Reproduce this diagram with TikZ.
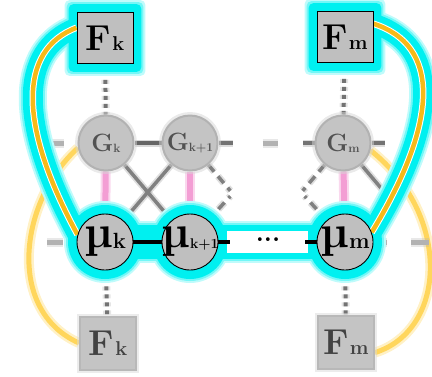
\documentclass[tikz,border=0pt]{standalone}
\usepackage{fix-cm}
\usepackage{tikz}
\usetikzlibrary{positioning}
\definecolor{glowcyan}{RGB}{0,240,240}
\definecolor{wireorange}{RGB}{246,186,24}
\definecolor{softyellow}{RGB}{255,214,92}
\definecolor{softpink}{RGB}{243,158,212}
\pgfdeclarelayer{back}
\pgfdeclarelayer{glow}
\pgfsetlayers{back,glow,main}

\newcommand{\flab}[1]{{\fontsize{36}{36}\selectfont\textbf{F}}\kern1pt{\fontsize{20}{20}\selectfont\textbf{#1}}}
\newcommand{\mulab}[2]{\makebox[0pt]{{\fontsize{46}{46}\selectfont\textbf{µ}}\raisebox{-1pt}{\fontsize{#2}{#2}\selectfont\textbf{#1}}}}
\newcommand{\glab}[1]{\makebox[0pt]{{\fontsize{25}{25}\selectfont\textbf{G}}\raisebox{-1pt}{\fontsize{12}{12}\selectfont\textbf{#1}}}}

\tikzset{
  fbox/.style={rectangle,draw=black,line width=0.9,fill=black!25,minimum width=56,minimum height=51,inner sep=0},
  munode/.style={circle,draw=black,line width=0.9,fill=black!25,minimum size=56,inner sep=0},
  gnode/.style={circle,fill=black!23,draw=black!30,line width=2,minimum size=55,inner sep=0,text=black!68,
    preaction={draw=black!16,draw opacity=.5,line width=7}},
  fbnode/.style={rectangle,fill=black!23,draw=black!28,line width=2,minimum width=56,minimum height=53,inner sep=0,text=black!74,
    preaction={draw=black!15,draw opacity=.5,line width=6}},
  hazy/.style={draw=black!#1,line width=3.5,preaction={draw=black!#1,draw opacity=.25,line width=7}},
  hazydash/.style={draw=black!#1,line width=3.5,dash pattern=on 9 off 6,
    preaction={draw=black!#1,draw opacity=.25,line width=7,dash pattern=on 9 off 6}},
  greydash/.style={draw=black!30,line width=5,preaction={draw=black!30,draw opacity=.3,line width=9}},
  dotline/.style={draw=black!55,line width=4,dash pattern=on 4 off 4,
    preaction={draw=black!40,draw opacity=.25,line width=8,dash pattern=on 4 off 4}},
  pinkedge/.style={draw=softpink,line width=6,preaction={draw=softpink,draw opacity=.4,line width=10}},
  yellowwire/.style={draw=softyellow,line width=5,preaction={draw=softyellow,draw opacity=.35,line width=10}},
}

\begin{document}
\begin{tikzpicture}[x=1pt,y=-1pt]
  \useasboundingbox (0,0) rectangle (432,376);
  % factor and variable nodes
  \node[fbox] (Fk) at (105,38) {\flab{k}};
  \node[fbox] (Fm) at (345,37) {\flab{m}};
  \node[gnode] (Gk) at (106,143) {\glab{k}};
  \node[gnode] (Gk1) at (190,143) {\glab{k+1}};
  \node[gnode] (Gm) at (343,143) {\glab{m}};
  \node[munode] (muk) at (105,242) {\mulab{k}{22}};
  \node[munode] (muk1) at (190,242) {\mulab{k+1}{14}};
  \node[munode] (mum) at (345,242) {\mulab{m}{22}};
  \node[fbnode] (Fbk) at (108,343) {\flab{k}};
  \node[fbnode] (Fbm) at (346,342) {\flab{m}};
  \node[font=\fontsize{26}{26}\selectfont\bfseries] (dots) at (268,240) {...};

  \begin{pgfonlayer}{back}
    % faded wires
    \draw[yellowwire] (Gk.190) .. controls (20,200) and (5,310) .. (Fbk.west);
    \draw[yellowwire] (Gm.-15) .. controls (452,215) and (447,330) .. (Fbm.-20);
    \draw[greydash] ([xshift=-14]Gk.west) -- ++(-16,0);
    \draw[greydash] ([xshift=44]Gk1.east) -- ([xshift=-37]Gm.west);
    \draw[greydash] ([xshift=-14]muk.west) -- ++(-16,0);
    \draw[greydash] ([xshift=8]mum.east) -- ++(6,0);
    \draw[greydash] ([xshift=38]mum.east) -- ++(18,0);
    \draw[hazy=60] (Gk) -- (Gk1);
    \draw[hazy=55] (Gk1.east) -- ++(14,0);
    \draw[hazy=55] (Gm.west) -- ++(-12,0);
    \draw[hazy=55] (Gm.east) -- ++(13,0);
    \draw[hazy=50] (Gk) -- (muk1);
    \draw[hazy=50] (Gk1) -- (muk);
    \draw[hazydash=50] (Gk1.-50) -- ++(22,26);
    \draw[hazydash=50] (muk1.50) -- ++(22,-24);
    \draw[hazydash=50] (Gm.230) -- ++(-22,26);
    \draw[hazydash=50] (mum.130) -- ++(-22,-24);
    \draw[hazy=50] (Gm.-50) -- ++(22,26);
    \draw[dotline] (Fk) -- (Gk);
    \draw[dotline] (Fm) -- (Gm);
    \draw[dotline] (muk) -- (Fbk);
    \draw[dotline] (mum) -- (Fbm);
    \draw[pinkedge] (Gk) -- (muk);
    \draw[pinkedge] (Gk1) -- (muk1);
    \draw[pinkedge] (Gm) -- (mum);
  \end{pgfonlayer}

  \begin{pgfonlayer}{glow}
    % highlighted chain
    \foreach \w/\c in {8/glowcyan!25,4/glowcyan!55,0/glowcyan}{
      \fill[fill=\c,rounded corners=5] ([shift={(-8-\w/2,-8-\w/2)}]Fk.north west) rectangle ([shift={(8+\w/2,8+\w/2)}]Fk.south east);
      \fill[fill=\c,rounded corners=5] ([shift={(-8-\w/2,-8-\w/2)}]Fm.north west) rectangle ([shift={(8+\w/2,8+\w/2)}]Fm.south east);
      \fill[fill=\c] (muk) circle [radius={37+\w/2}];
      \fill[fill=\c] (muk1) circle [radius={37+\w/2}];
      \fill[fill=\c] (mum) circle [radius={37+\w/2}];
      \draw[draw=\c,line width={34+\w}] (muk) -- (mum);
      \draw[draw=\c,line width={20+\w},line cap=round] (Fk.160) .. controls (18,50) and (18,125) .. (muk.165);
      \draw[draw=\c,line width={20+\w},line cap=round] (Fm.25) .. controls (440,45) and (440,120) .. (mum.20);
    }
    \draw[white,line width=6.5] (Fk.160) .. controls (18,50) and (18,125) .. (muk.165);
    \draw[white,line width=6.5] (Fm.25) .. controls (440,45) and (440,120) .. (mum.20);
    \draw[white,line width=22,shorten <=9,shorten >=9] (muk1.east) -- (mum.west);
    \draw[wireorange,line width=4.5] (Fk.160) .. controls (18,50) and (18,125) .. (muk.165);
    \draw[wireorange,line width=4.5] (Fm.25) .. controls (440,45) and (440,120) .. (mum.20);
    \draw[black,line width=4] (muk) -- (muk1);
    \draw[black,line width=4] (muk1.east) -- ++(12,0);
    \draw[black,line width=4] (mum.west) -- ++(-12,0);
  \end{pgfonlayer}
\end{tikzpicture}
\end{document}
